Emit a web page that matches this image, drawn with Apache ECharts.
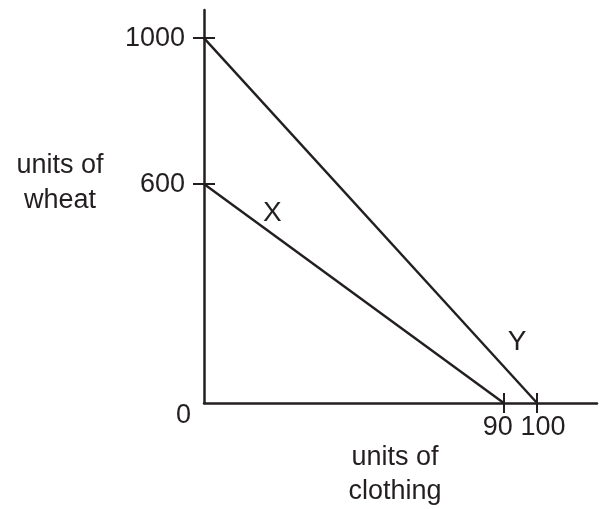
<!DOCTYPE html>
<html>
<head>
<meta charset="utf-8">
<script src="https://cdn.jsdelivr.net/npm/echarts@6/dist/echarts.min.js"></script>
<style>
  html, body { margin: 0; padding: 0; background: #fff; }
  #main { width: 609px; height: 509px; }
</style>
</head>
<body>
<div id="main"></div>
<script>
// data
var wheatTicks = [0, 600, 1000];      // y tick labels
var clothingTicks = [90, 100];        // x tick labels
var lineX = [[0, 600], [90, 0]];      // frontier X
var lineY = [[0, 1000], [100, 0]];    // frontier Y
var curveLabels = [
    { name: 'X', value: [20.5, 520] },
    { name: 'Y', value: [94, 167] }
];

var ink = '#231f20';
var font = 'Liberation Sans, Arial, sans-serif';

var myChart = echarts.init(document.getElementById('main'));

option = {
    animation: false,
    grid: { left: 204, top: 10, width: 393, height: 393 },
    xAxis: [
        {
            type: 'value', min: 0, max: 118,
            splitLine: { show: false },
            axisLine: { lineStyle: { color: ink, width: 2.5 } },
            axisTick: { length: 10, lineStyle: { color: ink, width: 2 }, customValues: clothingTicks },
            axisLabel: {
                customValues: clothingTicks, margin: 11, color: ink, fontSize: 27, fontFamily: font,
                hideOverlap: false,
                // nudge the two close labels apart a little
                formatter: function (v) { return v === 90 ? '{l|90}' : '{r|' + v + '}'; },
                rich: {
                    l: { padding: [0, 12, 0, 0], fontSize: 27, fontFamily: font, color: ink },
                    r: { padding: [0, 0, 0, 12], fontSize: 27, fontFamily: font, color: ink }
                }
            }
        },
        {
            // inner half of the crossing ticks
            type: 'value', min: 0, max: 118, position: 'bottom',
            splitLine: { show: false },
            axisLine: { show: false },
            axisTick: { inside: true, length: 10, lineStyle: { color: ink, width: 2 }, customValues: clothingTicks },
            axisLabel: { show: false }
        }
    ],
    yAxis: [
        {
            type: 'value', min: 0, max: 1077,
            splitLine: { show: false },
            axisLine: { lineStyle: { color: ink, width: 2.5 } },
            axisTick: { length: 11, lineStyle: { color: ink, width: 2 }, customValues: [600, 1000] },
            axisLabel: {
                customValues: wheatTicks, margin: 13, color: ink, fontSize: 27, fontFamily: font,
                formatter: function (v) { return v === 0 ? '{o|0}' : '{n|' + v + '}'; },
                rich: {
                    o: { padding: [26, 0, 0, 0], fontSize: 27, fontFamily: font, color: ink },
                    n: { padding: [0, 6, 0, 0], fontSize: 27, fontFamily: font, color: ink }
                }
            }
        },
        {
            type: 'value', min: 0, max: 1077, position: 'left',
            splitLine: { show: false },
            axisLine: { show: false },
            axisTick: { inside: true, length: 11, lineStyle: { color: ink, width: 2 }, customValues: [600, 1000] },
            axisLabel: { show: false }
        }
    ],
    series: [
        { type: 'line', data: lineX, symbol: 'none', lineStyle: { color: ink, width: 2.4 } },
        { type: 'line', data: lineY, symbol: 'none', lineStyle: { color: ink, width: 2.4 } },
        {
            type: 'scatter', data: curveLabels, symbolSize: 0,
            itemStyle: { opacity: 1 },
            label: {
                show: true, position: 'inside', formatter: '{b}',
                color: ink, fontSize: 28, fontFamily: font
            }
        }
    ],
    graphic: [
        {
            type: 'text', x: 60, y: 148,
            style: { text: 'units of\nwheat', fill: ink, font: '27px ' + font, textAlign: 'center', lineHeight: 35 }
        },
        {
            type: 'text', x: 395, y: 441,
            style: { text: 'units of\nclothing', fill: ink, font: '27px ' + font, textAlign: 'center', lineHeight: 34 }
        }
    ]
};

myChart.setOption(option);
</script>
</body>
</html>
